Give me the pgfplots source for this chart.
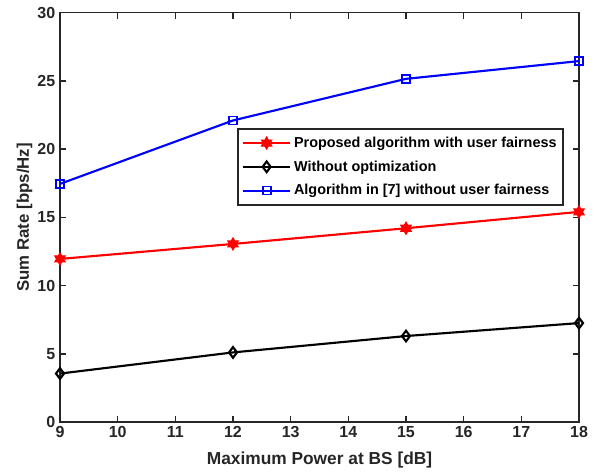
\documentclass[border=0pt]{standalone}
\usepackage{fontspec}
\setmainfont{Liberation Sans}
\usepackage{pgfplots}
\pgfplotsset{compat=1.18}
\pgfdeclareplotmark{hexstar}{%
  \pgfpathmoveto{\pgfpointpolar{90}{\pgfplotmarksize}}%
  \pgfpathlineto{\pgfpointpolar{210}{\pgfplotmarksize}}%
  \pgfpathlineto{\pgfpointpolar{330}{\pgfplotmarksize}}%
  \pgfpathclose
  \pgfpathmoveto{\pgfpointpolar{270}{\pgfplotmarksize}}%
  \pgfpathlineto{\pgfpointpolar{30}{\pgfplotmarksize}}%
  \pgfpathlineto{\pgfpointpolar{150}{\pgfplotmarksize}}%
  \pgfpathclose
  \pgfusepathqfillstroke}
\definecolor{axgray}{RGB}{38,38,38}
\begin{document}
\begin{tikzpicture}
\path[use as bounding box] (-45pt,-37.5pt) rectangle (406.5pt,316.5pt);
\begin{axis}[
  at={(0,0)}, anchor=south west,
  scale only axis, width=389.25pt, height=307pt,
  xmin=9, xmax=18, ymin=0, ymax=30,
  xtick={9,10,...,18}, ytick={0,5,...,30},
  tick align=inside, major tick length=4.5pt,
  axis line style={axgray, line width=1.1pt},
  every tick/.style={axgray, line width=1.1pt},
  tick label style={font=\fontsize{12}{14}\selectfont\bfseries, text=axgray},
  /pgf/number format/assume math mode=true,
  xlabel={\fontsize{13}{15}\selectfont\bfseries Maximum Power at BS [dB]},
  ylabel={\fontsize{12.6}{15}\selectfont\bfseries Sum Rate [bps/Hz]},
  xlabel style={yshift=-3.5pt, text=axgray},
  ylabel style={yshift=-3pt, text=axgray},
  legend style={at={(rel axis cs:0.971,0.718)}, anchor=north east,
    draw=axgray, line width=1.1pt, font=\fontsize{10.8}{13}\selectfont\bfseries,
    row sep=4.5pt, inner xsep=3pt, inner ysep=4pt},
  legend cell align=left,
  legend image code/.code={\draw[#1, line width=1.6pt] (0cm,0cm) -- (1.25cm,0cm); \draw[#1, line width=1.6pt, only marks] plot coordinates {(0.625cm,0cm)};},
]
\addplot[red, line width=1.6pt, mark=hexstar, mark size=4.5pt, mark options={fill=red, line width=0.8pt}]
  coordinates {(9,11.95) (12,13.05) (15,14.2) (18,15.4)};
\addlegendentry{Proposed algorithm with user fairness}
\addplot[black, line width=1.6pt, mark=diamond, mark size=4pt, mark options={line width=1.6pt}]
  coordinates {(9,3.55) (12,5.1) (15,6.3) (18,7.25)};
\addlegendentry{Without optimization}
\addplot[blue, line width=1.6pt, mark=square, mark size=3pt, mark options={line width=1.3pt}]
  coordinates {(9,17.45) (12,22.1) (15,25.15) (18,26.45)};
\addlegendentry{Algorithm in [7] without user fairness}
\end{axis}
\end{tikzpicture}
\end{document}
